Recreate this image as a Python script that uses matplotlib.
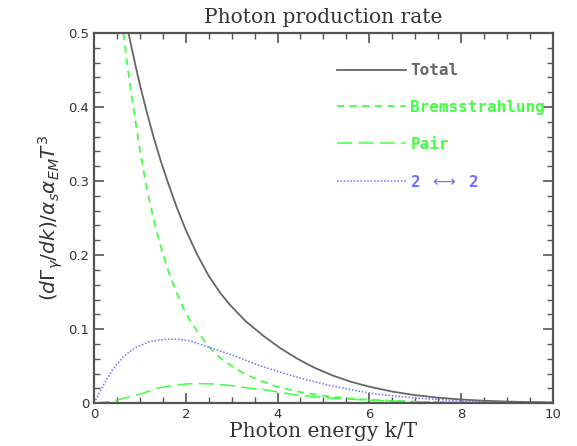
import numpy as np
from matplotlib import pyplot as plt
from matplotlib.ticker import MultipleLocator

# Curves (k/T, rate)
total_x = [0.75, 0.9, 1.0, 1.15, 1.3, 1.45, 1.6, 1.8, 2.0, 2.25, 2.5, 2.75, 2.96, 3.3,
           3.7, 4.05, 4.42, 4.8, 5.2, 5.6, 6.0, 6.5, 7.0, 7.5, 8.0, 8.5, 9.0, 9.5, 10.0]
total_y = [0.50, 0.457, 0.430, 0.393, 0.359, 0.328, 0.300, 0.265, 0.234, 0.2005, 0.172,
           0.149, 0.133, 0.111, 0.0905, 0.0747, 0.0605, 0.048, 0.0374, 0.0289, 0.0223,
           0.0157, 0.0109, 0.0074, 0.005, 0.0033, 0.0022, 0.0015, 0.001]

brem_x = [0.64, 0.73, 0.82, 0.91, 1.0, 1.1, 1.2, 1.37, 1.5, 1.65, 1.8, 1.95, 2.1, 2.24,
          2.49, 2.75, 3.03, 3.3, 3.6, 4.0, 4.5, 5.0, 5.5, 6.0, 7.0, 8.0, 10.0]
brem_y = [0.50, 0.455, 0.415, 0.378, 0.342, 0.307, 0.276, 0.23, 0.202, 0.173, 0.149,
          0.128, 0.111, 0.098, 0.077, 0.061, 0.049, 0.039, 0.031, 0.022, 0.015,
          0.010, 0.0068, 0.0046, 0.002, 0.0009, 0.0002]

pair_x = [0.0, 0.25, 0.49, 0.8, 1.0, 1.37, 1.7, 2.02, 2.3, 2.6, 2.96, 3.3, 3.69, 4.0,
          4.42, 5.14, 6.0, 7.0, 8.0, 9.0, 10.0]
pair_y = [0.0, 0.0015, 0.004, 0.009, 0.012, 0.020, 0.024, 0.026, 0.0265, 0.026, 0.024,
          0.021, 0.0185, 0.015, 0.011, 0.007, 0.004, 0.002, 0.001, 0.0005, 0.0002]

two_x = [0.0, 0.2, 0.4, 0.64, 0.9, 1.2, 1.5, 1.8, 2.1, 2.49, 2.96, 3.18, 3.6, 4.05,
         4.6, 5.14, 5.7, 6.2, 7.0, 8.0, 9.0, 10.0]
two_y = [0.0, 0.024, 0.045, 0.063, 0.075, 0.083, 0.086, 0.0867, 0.084, 0.076, 0.066,
         0.061, 0.051, 0.042, 0.032, 0.024, 0.017, 0.012, 0.007, 0.003, 0.0013, 0.0005]

labels = ['Total', 'Bremsstrahlung', 'Pair', r'2 $\longleftrightarrow$ 2']
colors = ['#666666', '#44ff44', '#44ff44', '#6f6fff']


def main():
    plt.rcParams['mathtext.fontset'] = 'dejavusans'
    fig = plt.figure(figsize=(5.77, 4.46), dpi=100)
    ax = fig.add_axes([0.163, 0.096, 0.795, 0.83])

    ax.plot(total_x, total_y, color=colors[0], lw=1.3, label=labels[0])
    ax.plot(brem_x, brem_y, color=colors[1], lw=1.3, dashes=(4, 3), label=labels[1])
    ax.plot(pair_x, pair_y, color=colors[2], lw=1.1, dashes=(10, 4), label=labels[2])
    ax.plot(two_x, two_y, color=colors[3], lw=1.1, dashes=(1, 1.2), label=labels[3])

    ax.set_xlim(0, 10)
    ax.set_ylim(0, 0.5)
    ax.xaxis.set_major_locator(MultipleLocator(2))
    ax.xaxis.set_minor_locator(MultipleLocator(0.5))
    ax.yaxis.set_major_locator(MultipleLocator(0.1))
    ax.yaxis.set_minor_locator(MultipleLocator(0.02))
    ax.xaxis.set_major_formatter(lambda v, p: '%g' % v)
    ax.yaxis.set_major_formatter(lambda v, p: '%g' % v)
    ax.tick_params(which='both', direction='in', top=True, right=True,
                   color='#555555', labelsize=9.5, labelcolor='#333333')
    ax.tick_params(which='major', length=7, width=1.2)
    ax.tick_params(which='minor', length=4, width=1.0)
    for s in ax.spines.values():
        s.set_color('#555555')
        s.set_linewidth(1.6)

    ax.set_title('Photon production rate', family='DejaVu Serif', fontsize=14.5,
                 color='#333333', pad=7)
    ax.set_xlabel('Photon energy k/T', family='DejaVu Serif', fontsize=14.5,
                  color='#333333', labelpad=1)
    ax.set_ylabel(r'$(d\Gamma_\gamma/dk)/\alpha_s\alpha_{EM}T^3$', fontsize=14.5,
                  color='#333333', labelpad=2)

    leg = ax.legend(loc='upper left', bbox_to_anchor=(0.512, 0.94), frameon=False,
                    handlelength=4.3, handletextpad=0.3, labelspacing=1.37,
                    borderpad=0, prop={'family': 'DejaVu Sans Mono', 'weight': 'bold',
                                       'size': 11.5})
    for t, c in zip(leg.get_texts(), colors):
        t.set_color(c)

    fig.savefig('out.png', dpi=100)


if __name__ == "__main__":
    main()
